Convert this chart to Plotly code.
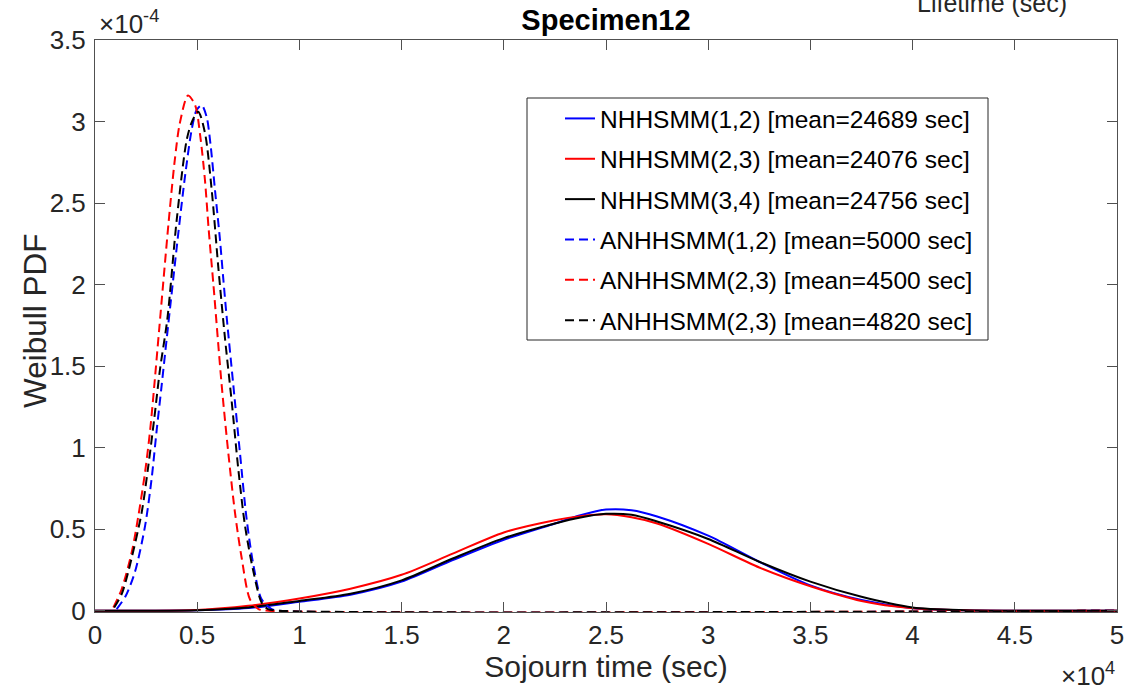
import plotly.graph_objects as go

# Sojourn-time samples (sec) and Weibull PDF values (in units of 1e-4)
t_nh = [0, 2500, 5000, 7500, 10000, 12500, 15000, 17500, 20000, 22500, 23750,
        25000, 26250, 27500, 30000, 32500, 35000, 37500, 40000, 42500, 45000, 50000]
pdf_nh_12 = [0, 0.0, 0.002, 0.016, 0.055, 0.098, 0.178, 0.31, 0.435, 0.535, 0.585,
             0.620, 0.616, 0.578, 0.46, 0.30, 0.155, 0.065, 0.015, 0.002, 0, 0]
pdf_nh_23 = [0, 0.0, 0.004, 0.03, 0.075, 0.135, 0.22, 0.35, 0.48, 0.555, 0.58,
             0.592, 0.573, 0.535, 0.41, 0.265, 0.15, 0.06, 0.015, 0.002, 0, 0]
pdf_nh_34 = [0, 0.0, 0.003, 0.02, 0.06, 0.104, 0.186, 0.32, 0.445, 0.535, 0.572,
             0.594, 0.588, 0.547, 0.44, 0.30, 0.178, 0.085, 0.02, 0.003, 0, 0]

t_anh_12 = [1060, 1500, 1960, 2450, 2770, 3020, 3260, 3510, 4080, 4400, 4730, 4970,
            5220, 5460, 5660, 5870, 6110, 6280, 6450, 6770, 7090, 7420, 7750, 8150,
            8640, 9000, 50000]
pdf_anh_12 = [0.01, 0.09, 0.24, 0.52, 0.81, 1.11, 1.38, 1.67, 2.32, 2.66, 2.95, 3.07,
              3.10, 3.03, 2.85, 2.58, 2.28, 2.03, 1.79, 1.38, 0.97, 0.56, 0.28, 0.07,
              0.01, 0, 0]

t_anh_23 = [900, 1300, 1800, 2120, 2450, 2700, 2900, 3150, 3600, 3900, 4150, 4550,
            4900, 5150, 5380, 5560, 5800, 6200, 6520, 6850, 7180, 7580, 8000, 8500, 50000]
pdf_anh_23 = [0.02, 0.13, 0.36, 0.58, 0.85, 1.11, 1.38, 1.74, 2.38, 2.76, 2.99, 3.16,
              3.10, 2.91, 2.64, 2.34, 1.99, 1.38, 0.97, 0.60, 0.32, 0.07, 0.01, 0, 0]

t_anh_23b = [940, 1300, 1630, 2280, 2610, 2900, 3180, 3540, 4000, 4490, 4750, 5050,
             5380, 5710, 6030, 6360, 6690, 7010, 7340, 7750, 8150, 8460, 9000, 50000]
pdf_anh_23b = [0.02, 0.10, 0.24, 0.60, 0.89, 1.18, 1.48, 1.79, 2.40, 2.89, 3.00, 3.06,
               2.93, 2.58, 2.11, 1.67, 1.28, 0.87, 0.52, 0.24, 0.05, 0.01, 0, 0]

names = ["NHHSMM(1,2) [mean=24689 sec]", "NHHSMM(2,3) [mean=24076 sec]",
         "NHHSMM(3,4) [mean=24756 sec]", "ANHHSMM(1,2) [mean=5000 sec]",
         "ANHHSMM(2,3) [mean=4500 sec]", "ANHHSMM(2,3) [mean=4820 sec]"]

x_ticks = [0, 5000, 10000, 15000, 20000, 25000, 30000, 35000, 40000, 45000, 50000]
x_ticktext = ["0", "0.5", "1", "1.5", "2", "2.5", "3", "3.5", "4", "4.5", "5"]
y_ticks = [0, 0.5, 1, 1.5, 2, 2.5, 3, 3.5]
y_ticktext = ["0", "0.5", "1", "1.5", "2", "2.5", "3", "3.5"]

SCALE = 1e-4
FONT = "Liberation Sans, Arial, Helvetica, sans-serif"
INK = "#262626"
DASH = "9px,5px"

series = [
    (t_nh, pdf_nh_12, "#0000ff", "solid"),
    (t_nh, pdf_nh_23, "#ff0000", "solid"),
    (t_nh, pdf_nh_34, "#000000", "solid"),
    (t_anh_12, pdf_anh_12, "#0000ff", DASH),
    (t_anh_23, pdf_anh_23, "#ff0000", DASH),
    (t_anh_23b, pdf_anh_23b, "#000000", DASH),
]

fig = go.Figure()
for i, (t, v, color, dash) in enumerate(series):
    fig.add_trace(go.Scatter(
        x=t, y=[p * SCALE for p in v], mode="lines", name=names[i],
        legendgroup=f"g{i}",
        line=dict(color=color, width=2, dash=dash, shape="spline", smoothing=0.8),
    ))

axis_common = dict(
    automargin=False, ticklabeloverflow="allow",
    showline=True, linecolor="#505050", linewidth=1, mirror="ticks",
    ticks="inside", ticklen=10, tickcolor="#505050", tickwidth=1,
    showgrid=False, zeroline=False,
    tickfont=dict(family=FONT, size=26, color=INK),
)

fig.update_layout(
    width=1124, height=691,
    margin=dict(l=95, r=7, t=40, b=79),
    paper_bgcolor="white", plot_bgcolor="white",
    font=dict(family=FONT, color=INK),
    title=dict(text="<b>Specimen12</b>", x=0.5, xref="paper", xanchor="center",
               y=1 - 20 / 691, yref="container", yanchor="middle",
               font=dict(family=FONT, size=29, color="#000000")),
    xaxis=dict(range=[0, 50000], tickvals=x_ticks, ticktext=x_ticktext,
               title=dict(text="Sojourn time (sec)", standoff=6,
                          font=dict(family=FONT, size=30, color=INK)),
               **axis_common),
    yaxis=dict(range=[-0.008 * SCALE, 3.5 * SCALE],
               tickvals=[v * SCALE for v in y_ticks], ticktext=y_ticktext,
               ticklabelstandoff=3, **axis_common),
    showlegend=True,
    legend=dict(x=(560 - 95) / 1022, y=1 - (96 - 40) / 572, xanchor="left", yanchor="top",
                bgcolor="rgba(0,0,0,0)", borderwidth=0, traceorder="grouped",
                tracegroupgap=5.5,
                font=dict(family=FONT, size=24.5, color="#000000")),
    shapes=[dict(type="rect", xref="paper", yref="paper",
                 x0=(527 - 95) / 1022, x1=(988 - 95) / 1022,
                 y0=1 - (340 - 40) / 572, y1=1 - (98 - 40) / 572,
                 line=dict(color=INK, width=1), fillcolor="rgba(0,0,0,0)", layer="above")],
    annotations=[
        dict(text="Weibull PDF", textangle=-90, xref="paper", yref="paper",
             x=(35 - 95) / 1022, y=1 - (321 - 40) / 572, xanchor="center", yanchor="middle",
             showarrow=False, font=dict(family=FONT, size=31.5, color=INK)),
        dict(text="×10<sup>-4</sup>", xref="paper", yref="paper",
             x=2 / 1022, y=1 - 1 / 572, xanchor="left", yanchor="bottom",
             showarrow=False, font=dict(family=FONT, size=26, color=INK)),
        dict(text="×10<sup>4</sup>", xref="paper", yref="paper",
             x=1.0, y=-(693 - 612) / 572, xanchor="right", yanchor="bottom",
             showarrow=False, font=dict(family=FONT, size=26, color=INK)),
        dict(text="Lifetime (sec)", xref="paper", yref="paper",
             x=(992 - 95) / 1022, y=1 + 37 / 572, xanchor="center", yanchor="middle",
             showarrow=False, font=dict(family=FONT, size=25, color=INK)),
    ],
)

fig.write_html("out.html")
